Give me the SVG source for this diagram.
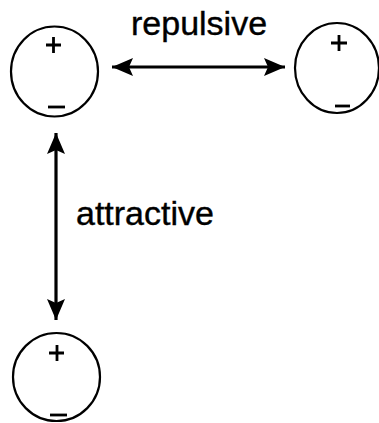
<svg xmlns="http://www.w3.org/2000/svg" width="379" height="423" viewBox="0 0 379 423">
<defs>
<style>
.c{fill:none;stroke:#000;stroke-width:2.2}
.s{stroke:#000;stroke-width:2.8;fill:none}
.l{stroke:#000;stroke-width:3.2;fill:none}
.t{font-family:"Liberation Sans",Arial,sans-serif;font-size:34px;fill:#000;stroke:#000;stroke-width:0.4}
</style>
<marker id="ah" viewBox="0 0 21 18" refX="21" refY="9" markerWidth="21" markerHeight="18" markerUnits="userSpaceOnUse" orient="auto-start-reverse">
<path d="M0,0 L21,9 L0,18 L4,9 Z" fill="#000"/>
</marker>
</defs>
<rect width="379" height="423" fill="#fff"/>
<g id="p1">
<ellipse class="c" cx="54.5" cy="71.5" rx="43.5" ry="45"/>
<path class="s" d="M46,45 H61 M53.5,37 V53"/>
<path class="s" d="M48,107 H65"/>
</g>
<g id="p2">
<ellipse class="c" cx="337" cy="68" rx="42" ry="45"/>
<path class="s" d="M331,43 H347 M339,35 V51"/>
<path class="s" d="M335,106 H350"/>
</g>
<g id="p3">
<ellipse class="c" cx="56.5" cy="377" rx="43.5" ry="44"/>
<path class="s" d="M49,353 H64 M57,345 V361"/>
<path class="s" d="M50,415 H67"/>
</g>
<g id="connectors">
<line class="l" x1="112" y1="67" x2="285" y2="67" marker-start="url(#ah)" marker-end="url(#ah)"/>
<line class="l" x1="56" y1="133" x2="56" y2="320" marker-start="url(#ah)" marker-end="url(#ah)"/>
</g>
<text class="t" x="131" y="35">repulsive</text>
<text class="t" x="76" y="225">attractive</text>
</svg>
